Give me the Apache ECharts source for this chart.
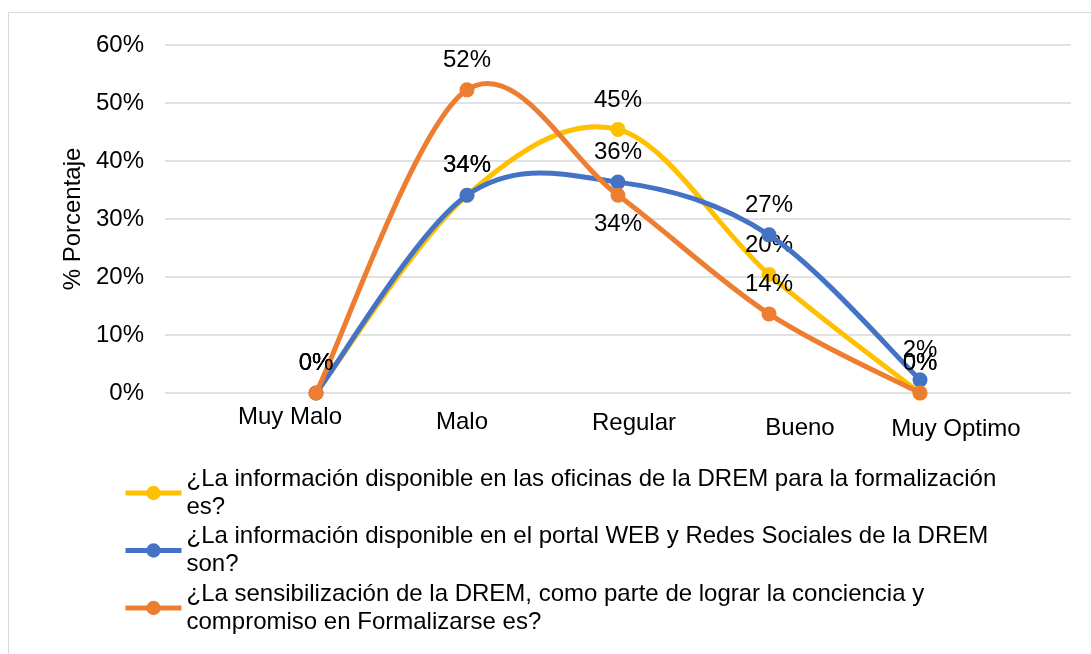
<!DOCTYPE html>
<html>
<head>
<meta charset="utf-8">
<script src="https://cdn.jsdelivr.net/npm/echarts@6/dist/echarts.min.js"></script>
<style>
  html, body { margin: 0; padding: 0; background: #fff; }
  #frame { position: absolute; left: 8px; top: 12px; width: 1100px; height: 660px;
           border-top: 1px solid #d9d9d9; border-left: 1px solid #d9d9d9; box-sizing: border-box; }
  #chart { position: absolute; left: 0; top: 0; width: 1091px; height: 654px; }
</style>
</head>
<body>
<div id="frame"></div>
<div id="chart"></div>
<script>
const categories = ['Muy Malo', 'Malo', 'Regular', 'Bueno', 'Muy Optimo'];
const seriesNames = [
  '¿La información disponible en las oficinas de la DREM para la formalización\nes?',
  '¿La información disponible en el portal WEB y Redes Sociales de la DREM\nson?',
  '¿La sensibilización de la DREM, como parte de lograr la conciencia y\ncompromiso en Formalizarse es?'
];
const oficinas = [0, 34.09, 45.45, 20.45, 0];
const portalWeb = [0, 34.09, 36.36, 27.27, 2.27];
const sensibilizacion = [0, 52.27, 34.09, 13.64, 0];
const yTicks = [0, 10, 20, 30, 40, 50, 60];

const FONT = '"Liberation Sans", Arial, sans-serif';
const FS = 24;
const colors = ['#FFC000', '#4472C4', '#ED7D31'];
const LW = 5;

// pad with empty slots at both ends so points sit one step in from the plot edges
const axisData = [''].concat(categories, ['']);
const pad = arr => [null].concat(arr, [null]);

// per-category label offsets (rich styles)
const labelRich = {
  c1: { padding: [0, 52, 0, 0] },
  c2: { padding: [5, 10, 0, 0] },
  c3: { padding: [6, 0, 0, 32] },
  c4: { padding: [11, 0, 0, 62] },
  c5: { padding: [12, 0, 0, 72] }
};
Object.keys(labelRich).forEach(k => {
  labelRich[k].fontSize = FS; labelRich[k].fontFamily = FONT; labelRich[k].color = '#000';
});

const datasets = [oficinas, portalWeb, sensibilizacion];

// Excel-like smoothed segment (Catmull-Rom style bezier) computed in pixel space via axis coords
function makeRenderItem(arr, color) {
  return function (params, api) {
    const i = params.dataIndex;
    const n = arr.length;
    if (i >= n - 1) return null;
    const pt = k => api.coord([k + 1, arr[Math.max(0, Math.min(n - 1, k))]]);
    const p1 = pt(i), p2 = pt(i + 1);
    const p0 = i === 0 ? p1 : pt(i - 1);
    const p3 = i + 2 > n - 1 ? p2 : pt(i + 2);
    const f = 1 / 6;
    return {
      type: 'bezierCurve',
      shape: {
        x1: p1[0], y1: p1[1], x2: p2[0], y2: p2[1],
        cpx1: p1[0] + (p2[0] - p0[0]) * f, cpy1: p1[1] + (p2[1] - p0[1]) * f,
        cpx2: p2[0] - (p3[0] - p1[0]) * f, cpy2: p2[1] - (p3[1] - p1[1]) * f
      },
      style: { stroke: color, lineWidth: LW, fill: null, lineCap: 'round' }
    };
  };
}

const series = [];
datasets.forEach((d, i) => {
  series.push({
    type: 'custom',
    renderItem: makeRenderItem(d, colors[i]),
    data: d.map((v, k) => [k + 1, v]),
    encode: { x: 0, y: 1 },
    z: 2 + i * 2,
    silent: true
  });
  series.push({
    name: seriesNames[i],
    type: 'line',
    data: pad(d).map((v, j) => {
      if (v == null) return null;
      const item = { value: v };
      if (i === 2 && j === 3) item.label = { position: 'bottom', distance: 10 };
      return item;
    }),
    symbol: 'circle',
    symbolSize: 15,
    itemStyle: { color: colors[i] },
    lineStyle: { color: colors[i], width: LW, opacity: 0 },
    label: {
      show: true, position: 'top', distance: 10,
      formatter: p => (p.value == null ? '' : Math.round(p.value) + '%'),
      fontSize: FS, fontFamily: FONT, color: '#000'
    },
    z: 3 + i * 2,
    emphasis: { disabled: true }
  });
});

const chart = echarts.init(document.getElementById('chart'));
chart.setOption({
  animation: false,
  textStyle: { fontFamily: FONT },
  grid: { left: 165, right: 20, top: 45, bottom: 261, containLabel: false },
  xAxis: {
    type: 'category',
    data: axisData,
    boundaryGap: false,
    axisLine: { show: false },
    axisTick: { show: false },
    splitLine: { show: false },
    axisLabel: {
      interval: 0,
      margin: 12,
      formatter: function (v, idx) {
        if (!v) return '';
        return '{c' + idx + '|' + v + '}';
      },
      rich: labelRich
    }
  },
  yAxis: {
    type: 'value',
    min: yTicks[0], max: yTicks[yTicks.length - 1], interval: 10,
    name: '% Porcentaje',
    nameLocation: 'middle',
    nameGap: 77,
    nameTextStyle: { fontSize: FS, fontFamily: FONT, color: '#000' },
    axisLine: { show: false },
    axisTick: { show: false },
    axisLabel: { formatter: '{value}%', fontSize: FS, fontFamily: FONT, color: '#000', margin: 21 },
    splitLine: { lineStyle: { color: '#d9d9d9', width: 1.5 } }
  },
  legend: {
    orient: 'vertical',
    left: 118,
    top: 460,
    itemWidth: 56,
    itemHeight: 18,
    itemGap: 1.5,
    textStyle: { fontSize: FS, fontFamily: FONT, color: '#000', lineHeight: 28 },
    data: seriesNames.map((name, i) => ({
      name: name,
      itemStyle: { color: colors[i] },
      lineStyle: { color: colors[i], width: LW, opacity: 1 }
    }))
  },
  series: series
});
</script>
</body>
</html>
